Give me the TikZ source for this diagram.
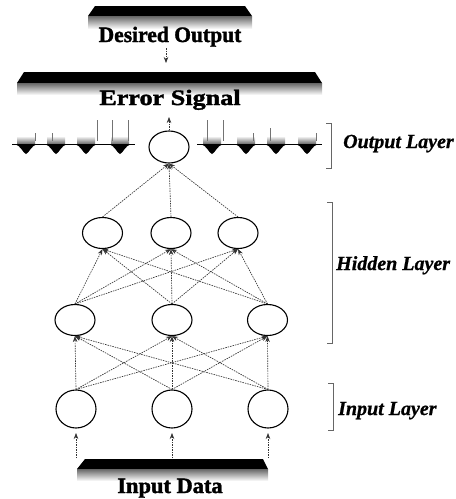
\documentclass[tikz,border=0pt]{standalone}
\usepackage{fontspec}
\setmainfont{Liberation Serif}
\newfontfamily\headfont[BoldFeatures={FakeBold=1.6}]{Liberation Serif}
\newfontfamily\labelfont[BoldItalicFeatures={FakeBold=0.8}]{Liberation Serif}
\usetikzlibrary{arrows.meta,shapes.geometric}

\begin{document}
\begin{tikzpicture}[x=1pt,y=-1pt,
  neuron/.style={ellipse, draw=black, line width=1.1pt, minimum width=40pt, minimum height=31pt, inner sep=0pt},
  link/.style={draw=black!80, line width=0.65pt, dash pattern=on 1.5pt off 1pt, -{Stealth[length=6pt,width=4.5pt]}},
  heading/.style={font=\headfont\fontsize{22}{22}\selectfont\bfseries, inner sep=0pt, anchor=base},
  layerlabel/.style={font=\labelfont\fontsize{20}{20}\selectfont\bfseries\itshape, inner sep=0pt, anchor=base west},
  bracket/.style={draw=black!60, line width=0.7pt},
  bar/.style={fill=black},
  grain/.style={top color=black!60, bottom color=white},
]
\useasboundingbox (0,0) rectangle (456,499);

% ---- teacher signal bars ----
\fill[bar] (95,6) -- (245,6) -- (252,16) -- (88,16) -- cycle;
\shade[grain] (88,16) rectangle (252,29);
\node[heading] (desired) at (170,42) {\scalebox{0.98}[1]{Desired Output}};

\fill[bar] (24,72) -- (315,72) -- (322,83) -- (17,83) -- cycle;
\shade[grain] (17,83) rectangle (322,95);
\node[heading] (error) at (170,105) {\scalebox{1.19}[1]{Error Signal}};

\fill[bar] (85,459) -- (263,459) -- (268,469) -- (77,469) -- cycle;
\shade[grain] (77,469) rectangle (268,481);
\node[heading] (data) at (170,493) {\scalebox{1.02}[1]{Input Data}};

\coordinate (desiredFoot) at (166,48);
\coordinate (errorTop) at (166,63);
\coordinate (errorFoot) at (169,117);
\draw[link] (desiredFoot) -- (errorTop);

% ---- neurons ----
\node[neuron, minimum height=32pt] (out) at (169,147) {};

\node[neuron] (h2a) at (102.5,233) {};
\node[neuron] (h2b) at (171,233) {};
\node[neuron] (h2c) at (238,233) {};

\node[neuron] (h1a) at (75,320) {};
\node[neuron] (h1b) at (172,320) {};
\node[neuron] (h1c) at (267.5,320) {};

\node[neuron, minimum height=38pt] (ina) at (76,409) {};
\node[neuron, minimum height=38pt] (inb) at (172,409) {};
\node[neuron, minimum height=38pt] (inc) at (268,409) {};

% ---- connections ----
\foreach \s in {ina,inb,inc}
  \foreach \t in {h1a,h1b,h1c}
    \draw[link] (\s.north) -- (\t.south);
\foreach \s in {h1a,h1b,h1c}
  \foreach \t in {h2a,h2b,h2c}
    \draw[link] (\s.north) -- (\t.south);
\foreach \s in {h2a,h2b,h2c}
  \draw[link] (\s.north) -- (out.south);
\draw[link] (out.north) -- (errorFoot);

\foreach \x/\n in {76/a,172/b,268/c} {
  \coordinate (feed\n) at (\x,458);
  \draw[link] (feed\n) -- (\x,433);
}

% ---- remaining output units ----
\draw[black, line width=0.8pt] (12,144) -- (135,144);
\draw[black, line width=0.8pt] (197,144) -- (322,144);
\foreach \x in {26,56,86,120,212,246,276,307} {
  \shade[top color=white, bottom color=black!60] (\x-9,136) rectangle (\x+9,144);
  \fill[black] (\x-11,144) .. controls (\x-5,146) and (\x-3,153) .. (\x,154)
               .. controls (\x+3,153) and (\x+5,146) .. (\x+11,144) -- cycle;
}
\foreach \x/\y in {35/133,52/133,97/120,112/120,128/120,207/120,223/120,253/133,270/128,316/133}
  \draw[black!55, line width=0.5pt] (\x,\y) -- (\x,141);

% ---- layer brackets ----
\draw[bracket] (326,123) -- (331,123) -- (331,168) -- (326,168);
\node[layerlabel] (outlabel) at (343,148) {Output Layer};

\draw[bracket] (327,202) -- (332,202) -- (332,343) -- (327,343);
\node[layerlabel] (hidlabel) at (336,270) {Hidden Layer};

\draw[bracket] (328,383) -- (333,383) -- (333,430) -- (328,430);
\node[layerlabel] (inlabel) at (338,415) {Input Layer};
\end{tikzpicture}
\end{document}
